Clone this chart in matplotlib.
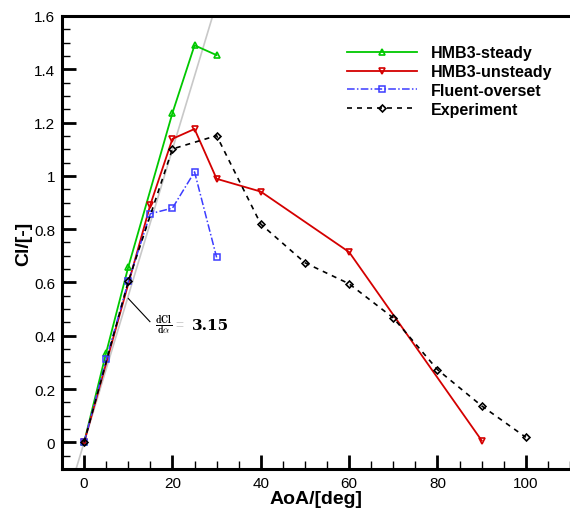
import numpy as np
import matplotlib.pyplot as plt
from matplotlib.ticker import MultipleLocator, FormatStrFormatter

# Lift coefficient vs angle of attack
aoa_steady = [0, 5, 10, 20, 25, 30]
cl_steady = [0, 0.337, 0.658, 1.236, 1.49, 1.453]

aoa_unsteady = [0, 15, 20, 25, 30, 40, 60, 90]
cl_unsteady = [0, 0.892, 1.139, 1.176, 0.989, 0.941, 0.714, 0.007]

aoa_fluent = [0, 5, 10, 15, 20, 25, 30]
cl_fluent = [0, 0.311, 0.604, 0.858, 0.879, 1.015, 0.694]

aoa_exp = [0, 10, 20, 30, 40, 50, 60, 70, 80, 90, 100]
cl_exp = [0, 0.604, 1.101, 1.151, 0.819, 0.674, 0.595, 0.467, 0.273, 0.137, 0.019]

slope = 3.15  # dCl/dalpha per radian
aoa_slope = [-5, 35]

plt.rcParams['font.family'] = ['Liberation Sans', 'DejaVu Sans']
plt.rcParams['mathtext.fontset'] = 'cm'

fig = plt.figure(figsize=(5.7, 5.1), dpi=100)
ax = fig.add_axes([0.1088, 0.0784, 0.8912, 0.8883])

# theoretical slope line
xs = np.array(aoa_slope, dtype=float)
ax.plot(xs, slope * np.radians(xs), color='#c8c8c8', lw=1.2, zorder=1)

ax.plot(aoa_steady, cl_steady, color='#00c800', lw=1.3, marker='^', ms=5,
        mfc='none', mec='#00c800', mew=1.2, label='HMB3-steady')
ax.plot(aoa_unsteady, cl_unsteady, color='#d40000', lw=1.3, marker='v', ms=5,
        mfc='none', mec='#d40000', mew=1.2, label='HMB3-unsteady')
ax.plot(aoa_fluent, cl_fluent, color='#3c3cff', lw=1.1, ls=(0, (5, 1.5, 1, 1.5)),
        marker='s', ms=4, mfc='none', mec='#3c3cff', mew=1.1, label='Fluent-overset')
ax.plot(aoa_exp, cl_exp, color='black', lw=1.2, ls=(0, (3, 3)), marker='D', ms=3.5,
        mfc='none', mec='black', mew=1.2, label='Experiment')

# slope annotation
ax.plot([10, 14.9], [0.54, 0.453], color='black', lw=0.8)
ax.text(16.0, 0.44, r'$\frac{\mathbf{dCl}}{\mathbf{d\alpha}}$', fontsize=10,
        va='center', ha='left')
ax.text(20.7, 0.44, '=', fontsize=10, color='#d0d0d0', va='center', ha='left')
ax.text(24.4, 0.44, '3.15', fontsize=11, fontweight='bold', family='DejaVu Serif',
        va='center', ha='left')

ax.set_xlim(-5, 110)
ax.set_ylim(-0.1, 1.6)
ax.xaxis.set_major_locator(MultipleLocator(20))
ax.xaxis.set_minor_locator(MultipleLocator(5))
ax.yaxis.set_major_locator(MultipleLocator(0.2))
ax.yaxis.set_minor_locator(MultipleLocator(0.05))
ax.yaxis.set_major_formatter(FormatStrFormatter('%g'))

ax.tick_params(which='major', direction='in', length=10, width=2,
               labelsize=11, top=False, right=False, pad=5)
ax.tick_params(which='minor', direction='in', length=6, width=1,
               top=False, right=False)
for s in ['left', 'bottom', 'top']:
    ax.spines[s].set_linewidth(2.2)
ax.spines['right'].set_visible(False)

ax.set_xlabel('AoA/[deg]', fontsize=14, fontweight='bold', labelpad=0)
ax.set_ylabel('Cl/[-]', fontsize=14, fontweight='bold', labelpad=1)

ax.legend(loc='upper left', bbox_to_anchor=(0.532, 0.967), frameon=False,
          numpoints=1, handlelength=4.4, handletextpad=0.9, labelspacing=0.24,
          prop={'weight': 'bold', 'size': 11.5})

fig.savefig('out.png', dpi=100)
